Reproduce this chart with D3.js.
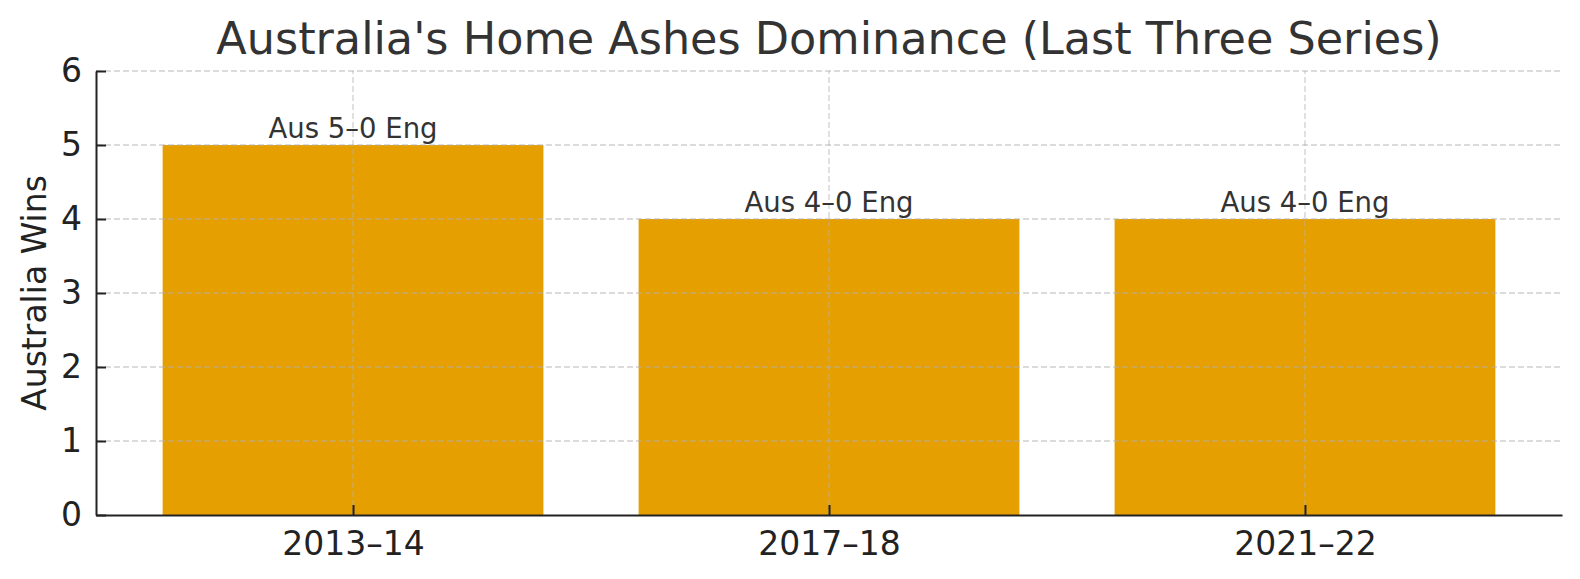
<!DOCTYPE html>
<html>
<head>
<meta charset="utf-8">
<script src="https://cdn.jsdelivr.net/npm/d3@7"></script>
<style>
  body { margin: 0; background: #fff; }
  svg { display: block; font-family: "DejaVu Sans", sans-serif; }
</style>
</head>
<body>
<div id="chart"></div>
<script>
// chart data
var seasons = ["2013–14", "2017–18", "2021–22"];
var ausWins = [5, 4, 4];
var resultLabels = ["Aus 5–0 Eng", "Aus 4–0 Eng", "Aus 4–0 Eng"];
var yTicks = [0, 1, 2, 3, 4, 5, 6];

var width = 1580,
    height = 579;

var margin = {top: 71, right: 18, bottom: 64, left: 96};

var svg = d3.select("#chart")
  .append("svg")
  .attr("width", width)
  .attr("height", height);

// x in category-index units, like matplotlib bar positions
var x = d3.scaleLinear()
  .domain([-0.54, seasons.length - 1 + 0.54])
  .range([margin.left, width - margin.right]);

var y = d3.scaleLinear()
  .domain([0, 6])
  .range([height - margin.bottom, margin.top]);

var barWidth = 0.8;

// bars
svg.append("g")
  .selectAll("rect")
  .data(ausWins)
  .enter()
  .append("rect")
  .attr("x", function(d, i) { return x(i - barWidth / 2); })
  .attr("width", function(d, i) { return x(i + barWidth / 2) - x(i - barWidth / 2); })
  .attr("y", function(d) { return y(d); })
  .attr("height", function(d) { return y(0) - y(d); })
  .attr("fill", "#E69F00");

// grid (drawn above bars, semi transparent)
var grid = svg.append("g").attr("class", "grid");

grid.selectAll("line.h")
  .data(yTicks.slice(1))
  .enter()
  .append("line")
  .attr("x1", x.range()[0])
  .attr("x2", x.range()[1])
  .attr("y1", function(d) { return y(d); })
  .attr("y2", function(d) { return y(d); });

grid.selectAll("line.v")
  .data(seasons)
  .enter()
  .append("line")
  .attr("x1", function(d, i) { return x(i); })
  .attr("x2", function(d, i) { return x(i); })
  .attr("y1", y.range()[0])
  .attr("y2", y.range()[1]);

grid.selectAll("line")
  .attr("stroke", "#b0b0b0")
  .attr("stroke-opacity", 0.6)
  .attr("stroke-width", 1.3)
  .attr("stroke-dasharray", "6,3");

// bar labels
svg.append("g")
  .selectAll("text")
  .data(ausWins)
  .enter()
  .append("text")
  .attr("x", function(d, i) { return x(i); })
  .attr("y", function(d) { return y(d) - 7; })
  .attr("text-anchor", "middle")
  .attr("font-size", 27.5)
  .attr("fill", "#333")
  .text(function(d, i) { return resultLabels[i]; });

// axes
var yAxis = d3.axisLeft(y)
  .tickValues(yTicks)
  .tickFormat(d3.format("d"))
  .tickSizeInner(-10)
  .tickSizeOuter(0)
  .tickPadding(14);

var xAxis = d3.axisBottom(x)
  .tickValues(d3.range(seasons.length))
  .tickFormat(function(i) { return seasons[i]; })
  .tickSizeInner(-10)
  .tickSizeOuter(0)
  .tickPadding(17);

var gy = svg.append("g")
  .attr("transform", "translate(" + margin.left + ",0)")
  .call(yAxis);

var gx = svg.append("g")
  .attr("transform", "translate(0," + y(0) + ")")
  .call(xAxis);

[gx, gy].forEach(function(g) {
  g.select(".domain").attr("stroke", "#222").attr("stroke-width", 2);
  g.selectAll(".tick line").attr("stroke", "#222").attr("stroke-width", 2);
  g.selectAll(".tick text")
    .attr("font-size", 33)
    .attr("fill", "#222")
    .attr("font-family", "DejaVu Sans, sans-serif");
});

// y label
svg.append("text")
  .attr("transform", "translate(46," + (y(3)) + ") rotate(-90)")
  .attr("text-anchor", "middle")
  .attr("font-size", 33)
  .attr("fill", "#222")
  .text("Australia Wins");

// title
svg.append("text")
  .attr("x", (x.range()[0] + x.range()[1]) / 2)
  .attr("y", 54)
  .attr("text-anchor", "middle")
  .attr("font-size", 44.5)
  .attr("fill", "#333")
  .text("Australia's Home Ashes Dominance (Last Three Series)");
</script>
</body>
</html>
